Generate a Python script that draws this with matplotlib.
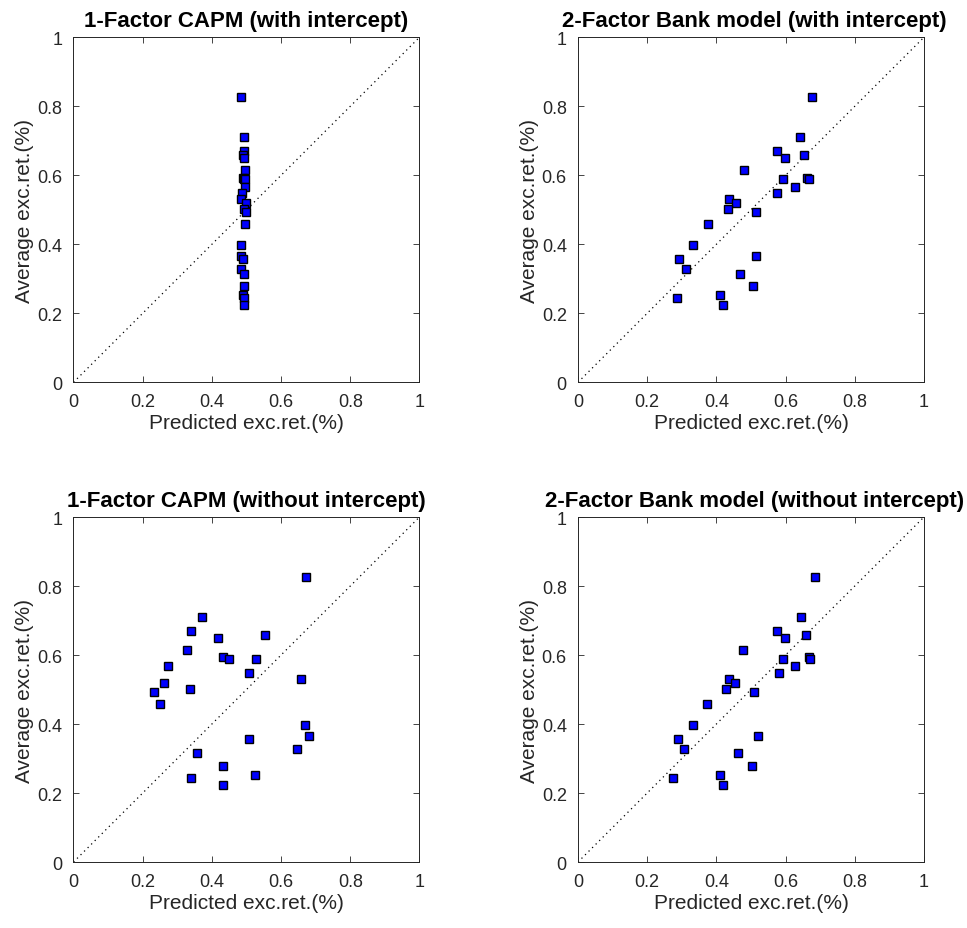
"""Average vs predicted excess returns for CAPM and 2-factor bank model."""

import matplotlib
matplotlib.use("Agg")
import matplotlib.pyplot as plt

plt.rcParams["font.family"] = ["Liberation Sans", "DejaVu Sans"]

# average excess returns (%), shared by every panel
avg_ret = [0.827, 0.710, 0.670, 0.658, 0.649, 0.614, 0.593, 0.588, 0.588, 0.567,
           0.549, 0.531, 0.519, 0.501, 0.493, 0.458, 0.397, 0.366, 0.357, 0.328,
           0.315, 0.279, 0.253, 0.244, 0.223]

# predicted excess returns (%) per model
capm_int = [0.484, 0.494, 0.492, 0.490, 0.494, 0.497, 0.489, 0.494, 0.495, 0.497,
            0.488, 0.484, 0.499, 0.492, 0.499, 0.497, 0.484, 0.484, 0.489, 0.484,
            0.492, 0.492, 0.489, 0.492, 0.492]
bank_int = [0.675, 0.641, 0.576, 0.654, 0.597, 0.480, 0.663, 0.592, 0.668, 0.627,
            0.575, 0.436, 0.458, 0.433, 0.514, 0.376, 0.332, 0.514, 0.293, 0.311,
            0.467, 0.506, 0.410, 0.285, 0.419]
capm_noint = [0.672, 0.372, 0.341, 0.554, 0.419, 0.328, 0.432, 0.449, 0.528, 0.272,
              0.506, 0.658, 0.263, 0.336, 0.232, 0.249, 0.668, 0.680, 0.506, 0.646,
              0.358, 0.433, 0.524, 0.341, 0.433]
bank_noint = [0.685, 0.646, 0.576, 0.658, 0.597, 0.476, 0.668, 0.592, 0.672, 0.627,
              0.581, 0.437, 0.454, 0.428, 0.510, 0.372, 0.332, 0.519, 0.290, 0.306,
              0.463, 0.502, 0.410, 0.275, 0.419]

titles = ["1-Factor CAPM (with intercept)", "2-Factor Bank model (with intercept)",
          "1-Factor CAPM (without intercept)", "2-Factor Bank model (without intercept)"]
predicted = [capm_int, bank_int, capm_noint, bank_noint]
ticks = [0, 0.2, 0.4, 0.6, 0.8, 1]
tick_labels = ["0", "0.2", "0.4", "0.6", "0.8", "1"]

ink = "#262626"
fig = plt.figure(figsize=(9.67, 9.29), dpi=100)
w, h = 0.3578, 0.3714
positions = [(0.0760, 0.5874), (0.5977, 0.5874), (0.0760, 0.0710), (0.5977, 0.0710)]
title_x = [0.5, 0.51, 0.5, 0.51]

for (left, bottom), title, pred, tx in zip(positions, titles, predicted, title_x):
    ax = fig.add_axes([left, bottom, w, h])
    ax.plot([0, 1], [0, 1], linestyle=(0, (1, 3)), color="black", linewidth=0.9)
    ax.plot(pred, avg_ret, linestyle="none", marker="s", markersize=6,
            markerfacecolor="#0000ff", markeredgecolor="black", markeredgewidth=1.0)
    ax.set_xlim(0, 1)
    ax.set_ylim(0, 1)
    ax.set_xticks(ticks)
    ax.set_xticklabels(tick_labels)
    ax.set_yticks(ticks)
    ax.set_yticklabels(tick_labels)
    ax.tick_params(direction="in", top=True, right=True, labelsize=13, length=4,
                   width=0.6, pad=8, colors=ink)
    for sp in ax.spines.values():
        sp.set_linewidth(0.7)
        sp.set_color(ink)
    ax.set_title(title, fontsize=16, fontweight="bold", pad=8, color="black", x=tx)
    ax.set_xlabel("Predicted exc.ret.(%)", fontsize=15, color=ink, labelpad=2)
    ax.set_ylabel("Average exc.ret.(%)", fontsize=15, color=ink, labelpad=2)

fig.savefig("out.png", dpi=100)
